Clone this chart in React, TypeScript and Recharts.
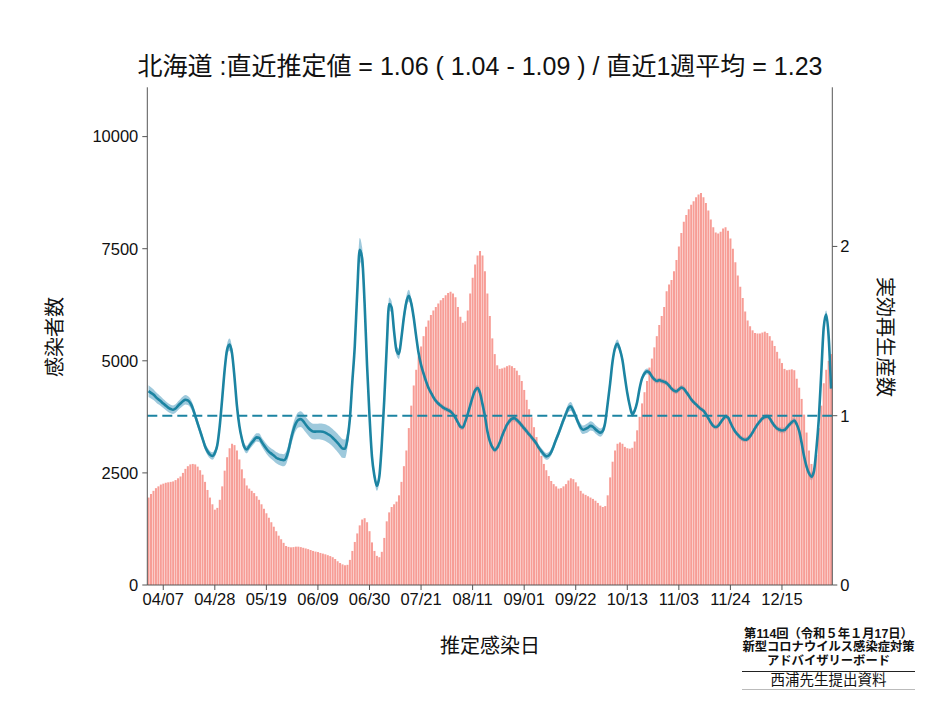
import React from 'react';
import { ComposedChart, Bar, Line, Area, XAxis, YAxis, ReferenceLine } from 'recharts';

// daily series from 2022-04-01 (279 days)
const startYear = 2022;
const startMonthIndex = 3;
const startDay = 1;

const cases = [
  1950, 2030, 2100, 2160, 2200, 2240, 2260, 2280, 2290, 2300,
  2310, 2340, 2380, 2420, 2500, 2590, 2650, 2690, 2700, 2690,
  2640, 2560, 2460, 2300, 2120, 1950, 1800, 1680, 1720, 1900,
  2200, 2550, 2850, 3050, 3150, 3120, 3000, 2800, 2580, 2380,
  2220, 2150, 2100, 2050, 1980, 1900, 1800, 1700, 1600, 1500,
  1400, 1300, 1200, 1100, 1020, 940, 870, 850, 840, 845,
  855, 855, 845, 830, 815, 800, 780, 760, 745, 735,
  715, 700, 685, 665, 645, 620, 580, 530, 490, 460,
  440, 450, 560, 760, 960, 1150, 1330, 1460, 1490, 1400,
  1200, 950, 760, 650, 620, 740, 1050, 1420, 1620, 1740,
  1800, 1860, 2000, 2300, 2650, 3000, 3500, 4000, 4450, 4800,
  5100, 5320, 5550, 5760, 5900, 6020, 6120, 6200, 6280, 6350,
  6400, 6460, 6510, 6540, 6500, 6420, 6200, 5980, 5850, 5880,
  6120, 6500, 6850, 7150, 7350, 7450, 7350, 7000, 6500, 6000,
  5500, 5150, 4900, 4820, 4830, 4850, 4880, 4900, 4880, 4840,
  4780, 4680, 4550, 4350, 4130, 3920, 3740, 3520, 3300, 3100,
  2880, 2700, 2560, 2430, 2320, 2250, 2200, 2150, 2160, 2200,
  2250, 2330, 2380, 2360, 2290, 2200, 2100, 2040, 2010, 1980,
  1950, 1920, 1880, 1830, 1770, 1740, 1760, 2000, 2400, 2750,
  3000, 3150, 3180, 3150, 3080, 3050, 3040, 3060, 3200, 3450,
  3750, 4050, 4300, 4550, 4850, 5050, 5300, 5550, 5800, 6000,
  6200, 6550, 6700, 6800, 7000, 7250, 7550, 7850, 8100, 8250,
  8380, 8480, 8560, 8650, 8710, 8740, 8650, 8520, 8350, 8150,
  7980, 7860, 7840, 7880, 7950, 7980, 7900, 7730, 7500, 7200,
  6900, 6650, 6400, 6100, 5900, 5770, 5680, 5620, 5610, 5610,
  5630, 5650, 5620, 5550, 5450, 5330, 5200, 5050, 4950, 4820,
  4790, 4800, 4810, 4790, 4600, 4400, 4150, 3800, 3400, 3000,
  2700, 2600, 2900, 3500, 4000, 4500, 4800, 5000, 5150,
];

const rt = [
  1.145, 1.135, 1.125, 1.11, 1.097, 1.085, 1.072, 1.06, 1.048, 1.04,
  1.035, 1.042, 1.058, 1.072, 1.085, 1.094, 1.09, 1.075, 1.045, 1.0,
  0.955, 0.91, 0.865, 0.82, 0.79, 0.77, 0.762, 0.78, 0.825, 0.94,
  1.1, 1.27, 1.39, 1.42, 1.37, 1.23, 1.06, 0.94, 0.865, 0.815,
  0.8, 0.82, 0.84, 0.858, 0.872, 0.87, 0.848, 0.825, 0.805, 0.788,
  0.776, 0.765, 0.752, 0.745, 0.74, 0.737, 0.75, 0.795, 0.86, 0.915,
  0.955, 0.976, 0.98, 0.968, 0.948, 0.93, 0.915, 0.907, 0.906, 0.907,
  0.907, 0.905, 0.9, 0.892, 0.883, 0.87, 0.855, 0.84, 0.822, 0.807,
  0.805, 0.86, 0.98, 1.2, 1.41, 1.725, 1.98, 1.93, 1.666, 1.3,
  1.0, 0.76, 0.645, 0.585, 0.64, 0.83, 1.09, 1.4, 1.66, 1.64,
  1.5, 1.385, 1.365, 1.46, 1.58, 1.67, 1.709, 1.665, 1.58, 1.47,
  1.37, 1.3, 1.25, 1.205, 1.165, 1.137, 1.11, 1.088, 1.072, 1.06,
  1.048, 1.04, 1.033, 1.025, 1.01, 0.988, 0.96, 0.935, 0.93, 0.965,
  1.01, 1.06, 1.11, 1.15, 1.163, 1.135, 1.07, 1.0, 0.91, 0.85,
  0.815, 0.797, 0.81, 0.84, 0.88, 0.915, 0.947, 0.968, 0.982, 0.986,
  0.975, 0.96, 0.943, 0.925, 0.908, 0.89, 0.873, 0.855, 0.835, 0.81,
  0.79, 0.772, 0.76, 0.765, 0.785, 0.82, 0.86, 0.895, 0.935, 0.975,
  1.01, 1.045, 1.055, 1.03, 0.996, 0.96, 0.93, 0.917, 0.922, 0.93,
  0.94, 0.935, 0.92, 0.908, 0.9, 0.91, 0.96, 1.07, 1.19, 1.32,
  1.4, 1.425, 1.39, 1.33, 1.23, 1.134, 1.06, 1.01, 1.03, 1.08,
  1.16, 1.22, 1.25, 1.262, 1.255, 1.232, 1.215, 1.205, 1.21, 1.205,
  1.2, 1.193, 1.178, 1.16, 1.148, 1.144, 1.155, 1.167, 1.16, 1.14,
  1.12, 1.097, 1.08, 1.067, 1.052, 1.04, 1.03, 1.01, 0.985, 0.96,
  0.94, 0.933, 0.94, 0.96, 0.98, 0.995, 0.99, 0.96, 0.93, 0.905,
  0.888, 0.872, 0.862, 0.858, 0.862, 0.878, 0.9, 0.925, 0.948, 0.967,
  0.983, 0.992, 0.996, 0.985, 0.96, 0.94, 0.925, 0.917, 0.913, 0.915,
  0.93, 0.947, 0.962, 0.972, 0.95, 0.91, 0.84, 0.76, 0.7, 0.66,
  0.64, 0.67, 0.8, 0.98, 1.25, 1.52, 1.597, 1.47, 1.16,
];

const rtHalf = [
  0.035, 0.033, 0.032, 0.03, 0.03, 0.028, 0.027, 0.026, 0.026, 0.025,
  0.025, 0.025, 0.026, 0.027, 0.028, 0.028, 0.027, 0.026, 0.025, 0.025,
  0.024, 0.023, 0.022, 0.022, 0.022, 0.022, 0.022, 0.022, 0.024, 0.027,
  0.03, 0.033, 0.035, 0.036, 0.035, 0.032, 0.028, 0.025, 0.023, 0.022,
  0.022, 0.022, 0.023, 0.024, 0.025, 0.026, 0.027, 0.028, 0.029, 0.03,
  0.031, 0.032, 0.033, 0.034, 0.035, 0.036, 0.037, 0.038, 0.04, 0.042,
  0.044, 0.045, 0.046, 0.046, 0.046, 0.046, 0.046, 0.046, 0.046, 0.046,
  0.047, 0.048, 0.049, 0.05, 0.051, 0.052, 0.053, 0.054, 0.055, 0.056,
  0.055, 0.05, 0.045, 0.045, 0.05, 0.06, 0.07, 0.065, 0.055, 0.045,
  0.035, 0.03, 0.028, 0.028, 0.028, 0.03, 0.032, 0.035, 0.038, 0.036,
  0.032, 0.03, 0.03, 0.032, 0.035, 0.036, 0.035, 0.03, 0.026, 0.022,
  0.02, 0.019, 0.018, 0.017, 0.016, 0.016, 0.015, 0.015, 0.015, 0.015,
  0.015, 0.015, 0.015, 0.015, 0.015, 0.015, 0.015, 0.015, 0.015, 0.015,
  0.015, 0.016, 0.017, 0.018, 0.018, 0.018, 0.017, 0.016, 0.016, 0.016,
  0.016, 0.016, 0.016, 0.017, 0.018, 0.018, 0.018, 0.018, 0.018, 0.018,
  0.018, 0.018, 0.018, 0.018, 0.018, 0.018, 0.018, 0.018, 0.018, 0.019,
  0.02, 0.02, 0.02, 0.02, 0.02, 0.02, 0.021, 0.022, 0.023, 0.024,
  0.025, 0.025, 0.026, 0.025, 0.024, 0.024, 0.024, 0.025, 0.026, 0.027,
  0.027, 0.026, 0.025, 0.025, 0.024, 0.023, 0.022, 0.022, 0.023, 0.024,
  0.025, 0.025, 0.024, 0.022, 0.02, 0.019, 0.018, 0.018, 0.018, 0.018,
  0.018, 0.018, 0.018, 0.017, 0.016, 0.016, 0.016, 0.015, 0.015, 0.015,
  0.015, 0.015, 0.015, 0.015, 0.015, 0.015, 0.015, 0.015, 0.015, 0.015,
  0.014, 0.014, 0.014, 0.014, 0.014, 0.014, 0.014, 0.014, 0.014, 0.014,
  0.014, 0.014, 0.014, 0.014, 0.014, 0.014, 0.014, 0.014, 0.014, 0.014,
  0.015, 0.015, 0.015, 0.015, 0.015, 0.015, 0.015, 0.015, 0.015, 0.015,
  0.015, 0.015, 0.015, 0.016, 0.016, 0.016, 0.016, 0.017, 0.017, 0.017,
  0.017, 0.017, 0.018, 0.018, 0.018, 0.019, 0.02, 0.02, 0.021, 0.022,
  0.022, 0.022, 0.022, 0.022, 0.022, 0.022, 0.024, 0.024, 0.025,
];

const xTicks = ['04/07', '04/28', '05/19', '06/09', '06/30', '07/21', '08/11', '09/01', '09/22', '10/13', '11/03', '11/24', '12/15'];
const leftTicks = [0, 2500, 5000, 7500, 10000];
const rightTicks = [0, 1, 2];
const leftMax = 11100;
const rightMax = 2.94;

const titleText = '北海道 :直近推定値 = 1.06 ( 1.04 - 1.09 ) / 直近1週平均 = 1.23';
const leftLabel = '感染者数';
const rightLabel = '実効再生産数';
const xLabel = '推定感染日';
const noteLines = ['第114回（令和５年１月17日）', '新型コロナウイルス感染症対策', 'アドバイザリーボード'];
const noteSource = '西浦先生提出資料';

const pad = (n: number) => (n < 10 ? '0' + n : '' + n);
const dayLabel = (i: number) => {
  const d = new Date(Date.UTC(startYear, startMonthIndex, startDay + i));
  return pad(d.getUTCMonth() + 1) + '/' + pad(d.getUTCDate());
};

const data = cases.map((c, i) => ({
  date: dayLabel(i),
  cases: c,
  rt: rt[i],
  band: [rt[i] - rtHalf[i], rt[i] + rtHalf[i]],
}));

const TEAL = '#1C84A2';
const FONT = "'Liberation Sans', Arial, 'Noto Sans CJK JP', sans-serif";
const JP = "'Liberation Sans', 'Noto Sans CJK JP', sans-serif";

export default function App() {
  return (
    <div style={{ position: 'relative', width: 924, height: 692, fontFamily: FONT, background: '#fff' }}>
      <ComposedChart
        width={924}
        height={692}
        data={data}
        margin={{ top: 79.3, right: 0, bottom: 0, left: 0 }}
        barCategoryGap="11%"
        style={{ fontFamily: FONT }}
      >
        <XAxis
          dataKey="date"
          type="category"
          ticks={xTicks}
          interval={0}
          height={115}
          tickSize={5}
          tickMargin={3}
          tick={{ fontSize: 16.5, fill: '#111' }}
          axisLine={{ stroke: '#555' }}
          tickLine={{ stroke: '#555' }}
        />
        <XAxis
          xAxisId="top"
          dataKey="date"
          orientation="top"
          height={0}
          tick={false}
          tickLine={false}
          axisLine={{ stroke: '#999' }}
        />
        <YAxis
          yAxisId="left"
          domain={[0, leftMax]}
          ticks={leftTicks}
          allowDataOverflow
          width={139.3}
          tickSize={5}
          tickMargin={4}
          tick={{ fontSize: 16.5, fill: '#111' }}
          axisLine={{ stroke: '#555' }}
          tickLine={{ stroke: '#555' }}
        />
        <YAxis
          yAxisId="right"
          orientation="right"
          domain={[0, rightMax]}
          ticks={rightTicks}
          allowDataOverflow
          width={99.7}
          tickSize={5}
          tickMargin={3}
          tick={{ fontSize: 16.5, fill: '#111' }}
          axisLine={{ stroke: '#555' }}
          tickLine={{ stroke: '#555' }}
        />
        <Bar yAxisId="left" dataKey="cases" fill="#F5857C" fillOpacity={0.8} isAnimationActive={false} />
        <Area
          yAxisId="right"
          dataKey="band"
          type="monotone"
          stroke="none"
          fill="#8DC0D6"
          fillOpacity={0.85}
          isAnimationActive={false}
        />
        <ReferenceLine yAxisId="right" y={1} stroke={TEAL} strokeWidth={2} strokeDasharray="10 5" />
        <Line
          yAxisId="right"
          dataKey="rt"
          type="monotone"
          stroke={TEAL}
          strokeWidth={2.6}
          dot={false}
          isAnimationActive={false}
        />
      </ComposedChart>

      <div
        style={{
          position: 'absolute', left: 122, top: 44, width: 700, textAlign: 'center',
          fontSize: 25, lineHeight: '28px', color: '#111', fontFamily: JP, whiteSpace: 'nowrap',
        }}
      >
        {titleText}
      </div>

      <div
        style={{
          position: 'absolute', left: 47 - 60, top: 329 - 14, width: 120, height: 28, lineHeight: '28px',
          textAlign: 'center', fontSize: 20, color: '#111', fontFamily: JP, transform: 'rotate(-90deg)',
        }}
      >
        {leftLabel}
      </div>

      <div
        style={{
          position: 'absolute', left: 877 - 80, top: 329 - 14, width: 160, height: 28, lineHeight: '28px',
          textAlign: 'center', fontSize: 20, color: '#111', fontFamily: JP, transform: 'rotate(90deg)',
        }}
      >
        {rightLabel}
      </div>

      <div
        style={{
          position: 'absolute', left: 482 - 80, top: 638 - 14, width: 160, height: 28, lineHeight: '28px',
          textAlign: 'center', fontSize: 20, color: '#111', fontFamily: JP,
        }}
      >
        {xLabel}
      </div>

      <div style={{ position: 'absolute', left: 734, top: 620, width: 173, fontFamily: JP, color: '#111' }}>
        {noteLines.map((t) => (
          <div key={t} style={{ textAlign: 'center', fontSize: 12.3, lineHeight: '13.4px', fontWeight: 700, whiteSpace: 'nowrap' }}>
            {t}
          </div>
        ))}
        <div style={{ borderTop: '1.5px solid #222', marginTop: 3 }} />
        <div style={{ textAlign: 'center', fontSize: 14.5, lineHeight: '17px', whiteSpace: 'nowrap' }}>{noteSource}</div>
        <div style={{ borderTop: '1px solid #bbb' }} />
      </div>
    </div>
  );
}
